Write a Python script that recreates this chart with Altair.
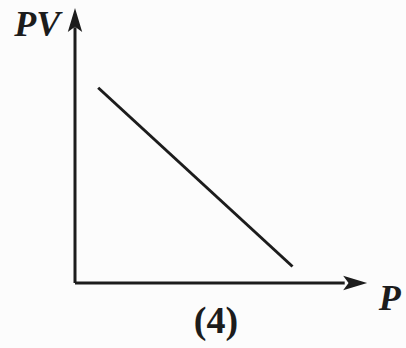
import altair as alt
import pandas as pd

# Straight-line relation between PV and P
p_vals = [0.8, 7.5]
pv_vals = [7.1, 0.6]

# Axis extents (arrowheads sit just past the end of each axis line)
axis_end = [9.3, 9.3]
arrow_pos = [9.66, 9.56]

INK = "#1c1c1c"
xs = alt.Scale(domain=[0, 10], nice=False, zero=False)
ys = alt.Scale(domain=[0, 10], nice=False, zero=False)

line_df = pd.DataFrame({"P": p_vals, "PV": pv_vals})
line = alt.Chart(line_df).mark_line(color=INK, strokeWidth=3).encode(
    x=alt.X("P:Q", scale=xs, axis=None),
    y=alt.Y("PV:Q", scale=ys, axis=None),
)

x_axis = alt.Chart(pd.DataFrame({"x0": [0], "x1": [axis_end[0]], "y": [0]})).mark_rule(
    color=INK, strokeWidth=3
).encode(x=alt.X("x0:Q", scale=xs, axis=None), x2="x1:Q", y=alt.Y("y:Q", scale=ys, axis=None))

y_axis = alt.Chart(pd.DataFrame({"y0": [0], "y1": [axis_end[1]], "x": [0]})).mark_rule(
    color=INK, strokeWidth=3
).encode(y=alt.Y("y0:Q", scale=ys, axis=None), y2="y1:Q", x=alt.X("x:Q", scale=xs, axis=None))

up_arrow = alt.Chart(pd.DataFrame({"x": [0], "y": [arrow_pos[1]]})).mark_point(
    shape="M0,-1L0.6,1L0,0.55L-0.6,1Z", size=576, filled=True, color=INK, opacity=1
).encode(x=alt.X("x:Q", scale=xs, axis=None), y=alt.Y("y:Q", scale=ys, axis=None))

right_arrow = alt.Chart(pd.DataFrame({"x": [arrow_pos[0]], "y": [0]})).mark_point(
    shape="M1,0L-1,0.6L-0.55,0L-1,-0.6Z", size=576, filled=True, color=INK, opacity=1
).encode(x=alt.X("x:Q", scale=xs, axis=None), y=alt.Y("y:Q", scale=ys, axis=None))

labels_df = pd.DataFrame({
    "x": [-1.3, 10.85],
    "y": [9.4, -0.58],
    "t": ["PV", "P"],
})
axis_labels = alt.Chart(labels_df).mark_text(
    font="Liberation Serif", fontSize=36, fontStyle="italic", fontWeight="bold",
    color=INK, align="center", baseline="middle",
).encode(x=alt.X("x:Q", scale=xs, axis=None), y=alt.Y("y:Q", scale=ys, axis=None), text="t:N")

caption = alt.Chart(pd.DataFrame({"x": [4.86], "y": [-1.4], "t": ["(4)"]})).mark_text(
    font="Liberation Serif", fontSize=38, fontWeight="bold", color=INK,
    align="center", baseline="middle",
).encode(x=alt.X("x:Q", scale=xs, axis=None), y=alt.Y("y:Q", scale=ys, axis=None), text="t:N")

chart = alt.layer(x_axis, y_axis, line, up_arrow, right_arrow, axis_labels, caption).properties(
    width=290, height=275,
    autosize=alt.AutoSizeParams(type="none"),
    padding={"left": 75, "top": 8, "right": 41, "bottom": 65},
    background="#fcfcfc",
).configure_view(stroke=None)

chart.save("out.html", embed_options={"renderer": "svg", "actions": False})
